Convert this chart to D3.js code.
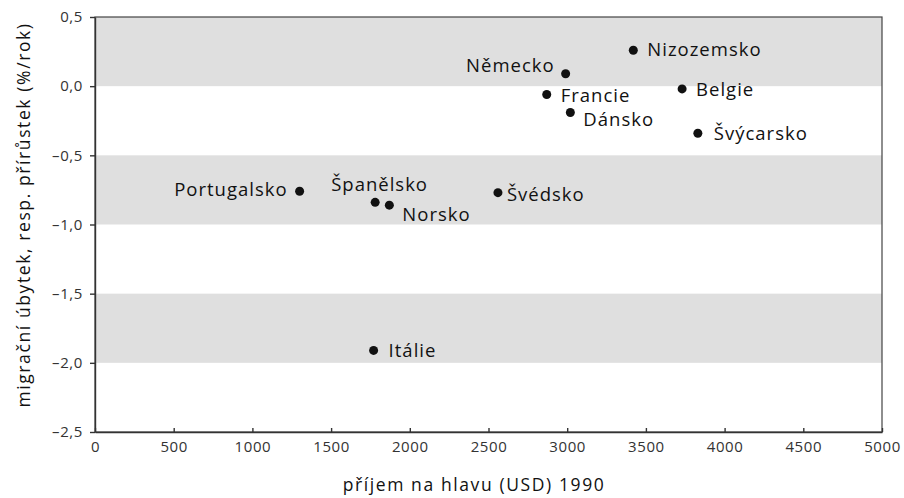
<!DOCTYPE html>
<html>
<head>
<meta charset="utf-8">
<script src="https://cdn.jsdelivr.net/npm/d3@7"></script>
<style>
    body { margin: 0; background: #fff; }
    .tick text { font-family: "Open Sans", sans-serif; font-size: 15px; fill: #333; letter-spacing: 0.6px; }
    .axis path, .axis line { stroke: #333; stroke-width: 1.4; }
    .label { font-family: "Open Sans", sans-serif; font-size: 18.5px; fill: #111; letter-spacing: 1px; }
    .title { font-family: "Open Sans", sans-serif; font-size: 17.5px; fill: #111; letter-spacing: 1.6px; }
</style>
</head>
<body>
<div id="chartArea"></div>
<script>
// data
const countries = ['Portugalsko', 'Španělsko', 'Norsko', 'Švédsko', 'Itálie', 'Německo',
                   'Francie', 'Dánsko', 'Nizozemsko', 'Belgie', 'Švýcarsko'];
const income    = [1300, 1780, 1870, 2560, 1770, 2990, 2870, 3020, 3420, 3730, 3830];
const migration = [-0.76, -0.84, -0.86, -0.77, -1.91, 0.09, -0.06, -0.19, 0.26, -0.02, -0.34];

const bands  = [[0, 0.5], [-1, -0.5], [-2, -1.5]];
const xTicks = [0, 500, 1000, 1500, 2000, 2500, 3000, 3500, 4000, 4500, 5000];
const yTicks = [0.5, 0, -0.5, -1, -1.5, -2, -2.5];

// label placement next to each point: [dx, dy, anchor]
const labelPos = [
    [-12, 5, 'end'], [-44, -11, 'start'], [13, 16, 'start'], [9, 8, 'start'],
    [15, 7, 'start'], [-11, -2, 'end'], [14, 8, 'start'], [13, 14, 'start'],
    [14, 6, 'start'], [14, 7, 'start'], [16, 7, 'start']
];

let margins = { top: 17, right: 22, bottom: 66, left: 95 };
let width = 904 - margins.left - margins.right,
    height = 498 - margins.top - margins.bottom;

let svg = d3.select('#chartArea')
    .append('svg')
        .attr('width', 904)
        .attr('height', 498);

let chart = svg.append('g')
    .attr('transform', 'translate(' + margins.left + ',' + margins.top + ')');

let xScale = d3.scaleLinear().domain([0, 5000]).range([0, width]);
let yScale = d3.scaleLinear().domain([-2.5, 0.5]).range([height, 0]);

let loc = d3.formatLocale({ decimal: ',', thousands: '', grouping: [3], currency: ['', ''], minus: '\u2013' });

// grey bands
chart.selectAll('.band')
    .data(bands)
    .enter().append('rect')
        .attr('class', 'band')
        .attr('x', 0)
        .attr('width', width)
        .attr('y', d => yScale(d[1]))
        .attr('height', d => yScale(d[0]) - yScale(d[1]))
        .attr('fill', '#dfdfdf');

// frame
chart.append('rect')
    .attr('width', width)
    .attr('height', height)
    .attr('fill', 'none')
    .attr('stroke', '#444')
    .attr('stroke-width', 1.2);

chart.append('g')
    .attr('class', 'x axis')
    .attr('transform', 'translate(0,' + height + ')')
    .call(d3.axisBottom(xScale)
        .tickValues(xTicks)
        .tickFormat(d3.format('d'))
        .tickSizeInner(-4)
        .tickSizeOuter(0)
        .tickPadding(9));

chart.append('g')
    .attr('class', 'y axis')
    .call(d3.axisLeft(yScale)
        .tickValues(yTicks)
        .tickFormat(loc.format('.1f'))
        .tickSizeInner(5)
        .tickSizeOuter(0)
        .tickPadding(7));

// points
chart.selectAll('.dot')
    .data(countries)
    .enter().append('circle')
        .attr('class', 'dot')
        .attr('cx', (d, i) => xScale(income[i]))
        .attr('cy', (d, i) => yScale(migration[i]))
        .attr('r', 4.5)
        .attr('fill', '#111');

chart.selectAll('.label')
    .data(countries)
    .enter().append('text')
        .attr('class', 'label')
        .attr('x', (d, i) => xScale(income[i]) + labelPos[i][0])
        .attr('y', (d, i) => yScale(migration[i]) + labelPos[i][1])
        .attr('text-anchor', (d, i) => labelPos[i][2])
        .text(d => d);

// axis titles
svg.append('text')
    .attr('class', 'title')
    .attr('x', 474)
    .attr('y', 491)
    .attr('text-anchor', 'middle')
    .text('příjem na hlavu (USD) 1990');

svg.append('text')
    .attr('class', 'title')
    .attr('transform', 'translate(30,' + 215 + ') rotate(-90)')
    .attr('text-anchor', 'middle')
    .text('migrační úbytek, resp. přírůstek (%/rok)');
</script>
</body>
</html>
